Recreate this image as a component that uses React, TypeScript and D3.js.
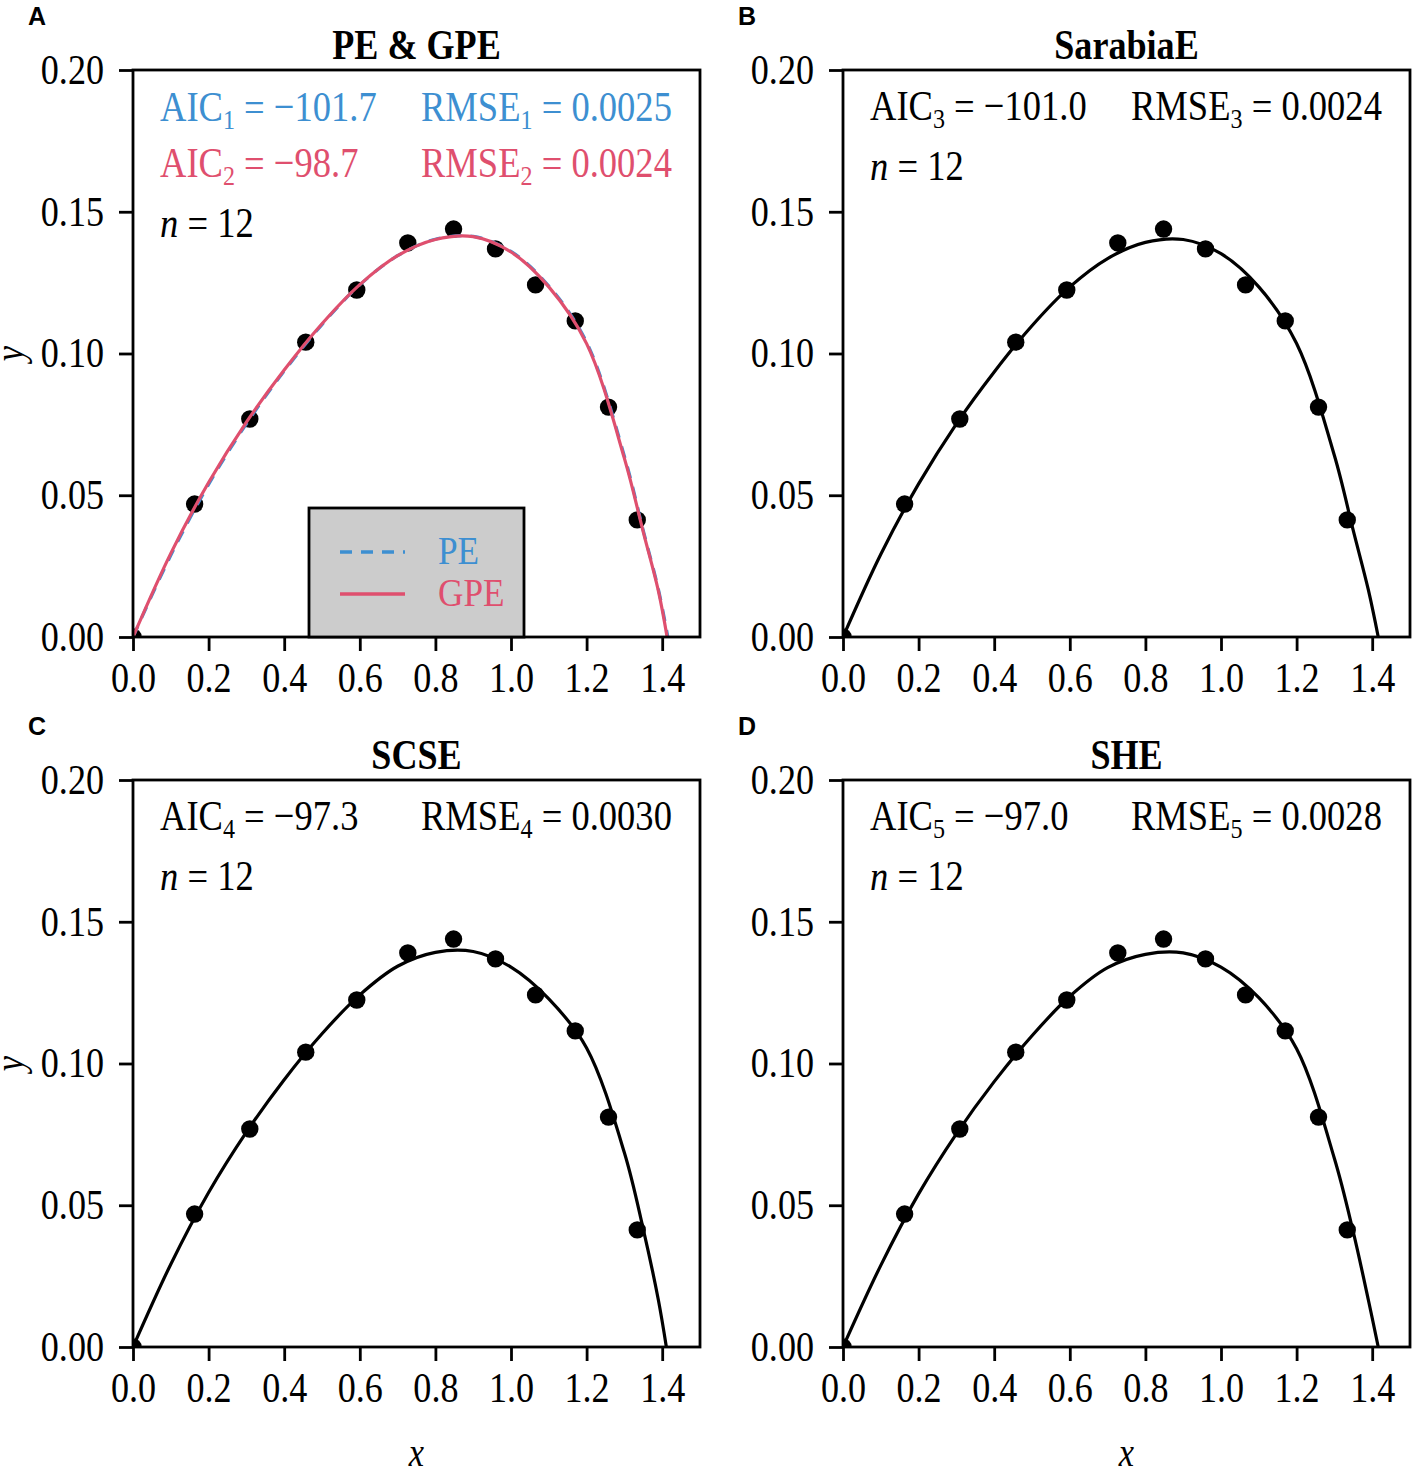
import React, { useEffect, useRef } from 'react';
import * as d3 from 'd3';

// observed points (same 12 in every panel)
const obsX = [0, 0.163, 0.309, 0.457, 0.592, 0.727, 0.848, 0.959, 1.065, 1.17, 1.258, 1.334];
const obsY = [0, 0.0469, 0.0769, 0.104, 0.1224, 0.139, 0.1439, 0.1369, 0.1242, 0.1115, 0.0811, 0.0413];

// fitted curves on a common x grid, each ending at its own root
const gridX = [0, 0.1, 0.2, 0.3, 0.4, 0.5, 0.6, 0.7, 0.8, 0.9, 1.0, 1.1, 1.2, 1.3, 1.35, 1.39];
const peY = [0, 0.0288, 0.0538, 0.0752, 0.0938, 0.1102, 0.1242, 0.1345, 0.1403, 0.1413, 0.136, 0.1238, 0.104, 0.0638, 0.0375, 0.0168];
const peEnd = 1.415;
const gpeY = [0, 0.0295, 0.0545, 0.0758, 0.0942, 0.1105, 0.1243, 0.1345, 0.1402, 0.1412, 0.1358, 0.1235, 0.1035, 0.063, 0.037, 0.0162];
const gpeEnd = 1.413;
const sarabiaY = [0, 0.0292, 0.054, 0.0752, 0.0935, 0.1098, 0.1235, 0.1335, 0.1392, 0.1402, 0.1352, 0.1235, 0.1035, 0.064, 0.0375, 0.0165];
const sarabiaEnd = 1.416;
const scseY = [0, 0.0292, 0.0545, 0.0758, 0.0943, 0.1105, 0.1242, 0.1343, 0.1392, 0.1395, 0.134, 0.1228, 0.1055, 0.0685, 0.0415, 0.0165];
const scseEnd = 1.411;
const sheY = [0, 0.0288, 0.054, 0.0752, 0.0936, 0.1098, 0.1237, 0.1338, 0.1385, 0.139, 0.134, 0.1232, 0.1052, 0.0665, 0.0405, 0.0165];
const sheEnd = 1.416;

const xTicks = [0, 0.2, 0.4, 0.6, 0.8, 1.0, 1.2, 1.4];
const yTicks = [0, 0.05, 0.1, 0.15, 0.2];

const titles = ['PE & GPE', 'SarabiaE', 'SCSE', 'SHE'];
const letters = ['A', 'B', 'C', 'D'];
const aicValues = ['\u2212101.7', '\u221298.7', '\u2212101.0', '\u221297.3', '\u221297.0'];
const rmseValues = ['0.0025', '0.0024', '0.0024', '0.0030', '0.0028'];
const legendNames = ['PE', 'GPE'];

const BLUE = '#3d8fd1';
const RED = '#df4f6e';
const SERIF = '"Liberation Serif", "Times New Roman", serif';
const SX = 0.86; // the serif text in the figure is a bit narrow

const W = 1415;
const H = 1473;
const PW = 567;
const PH = 567;

export default function App() {
  const ref = useRef<SVGSVGElement>(null);

  useEffect(() => {
    if (!ref.current) return;
    const svg = d3.select(ref.current);
    svg.selectAll('*').remove();

    const x = d3.scaleLinear().domain([0, 1.5]).range([0, PW]);
    const y = d3.scaleLinear().domain([0, 0.2]).range([PH, 0]);

    const curvePts = (ys: number[], end: number) =>
      gridX.map((gx, i) => [gx, ys[i]] as [number, number]).concat([[end, 0]]);

    const line = d3
      .line<[number, number]>()
      .x((d) => x(d[0]))
      .y((d) => y(d[1]))
      .curve(d3.curveCatmullRom.alpha(0.5));

    const addText = (
      g: any,
      tx: number,
      ty: number,
      size: number,
      anchor = 'start',
      weight = 'normal'
    ) =>
      g
        .append('text')
        .attr('transform', `translate(${tx},${ty}) scale(${SX},1)`)
        .attr('font-family', SERIF)
        .attr('font-size', size)
        .attr('font-weight', weight)
        .attr('text-anchor', anchor)
        .attr('fill', '#000');

    // stat line like  AIC_1 = -101.7
    const statText = (g: any, tx: number, ty: number, name: string, sub: string, val: string, color: string) => {
      const t = addText(g, tx, ty, 42.5).attr('fill', color);
      t.append('tspan').text(name);
      t.append('tspan').attr('font-size', 28).attr('dy', 8).text(sub);
      t.append('tspan').attr('dy', -8).text(` = ${val}`);
    };

    const panels = [
      {
        left: 133, top: 70,
        curves: [
          { ys: peY, end: peEnd, color: BLUE, dash: '12,9' },
          { ys: gpeY, end: gpeEnd, color: RED, dash: null },
        ],
        stats: [
          { sub: '1', color: BLUE, base: 121 - 70 },
          { sub: '2', color: RED, base: 177 - 70 },
        ],
        nBase: 237 - 70,
        legend: true, xLabel: false, yLabel: true,
      },
      {
        left: 843, top: 70,
        curves: [{ ys: sarabiaY, end: sarabiaEnd, color: '#000', dash: null }],
        stats: [{ sub: '3', color: '#000', base: 120 - 70 }],
        nBase: 180 - 70,
        legend: false, xLabel: false, yLabel: false,
      },
      {
        left: 133, top: 780,
        curves: [{ ys: scseY, end: scseEnd, color: '#000', dash: null }],
        stats: [{ sub: '4', color: '#000', base: 830 - 780 }],
        nBase: 890 - 780,
        legend: false, xLabel: true, yLabel: true,
      },
      {
        left: 843, top: 780,
        curves: [{ ys: sheY, end: sheEnd, color: '#000', dash: null }],
        stats: [{ sub: '5', color: '#000', base: 830 - 780 }],
        nBase: 890 - 780,
        legend: false, xLabel: true, yLabel: false,
      },
    ];

    panels.forEach((p, pi) => {
      const g = svg.append('g').attr('transform', `translate(${p.left},${p.top})`);

      const clipId = `clip-${pi}`;
      g.append('clipPath').attr('id', clipId).append('rect').attr('width', PW).attr('height', PH);

      // panel letter
      svg
        .append('text')
        .attr('x', p.left - 105)
        .attr('y', p.top - 45)
        .attr('font-family', '"Liberation Sans", Arial, sans-serif')
        .attr('font-weight', 'bold')
        .attr('font-size', 25)
        .text(letters[pi]);

      // title
      addText(g, PW / 2, -11, 42, 'middle', 'bold').text(titles[pi]);

      const plot = g.append('g').attr('clip-path', `url(#${clipId})`);

      // observed points
      plot
        .selectAll('.pt')
        .data(obsX.map((ox, i) => [ox, obsY[i]]))
        .enter()
        .append('circle')
        .attr('class', 'pt')
        .attr('cx', (d) => x(d[0]))
        .attr('cy', (d) => y(d[1]))
        .attr('r', 8.7)
        .attr('fill', '#000');

      // fitted curves
      p.curves.forEach((c) => {
        plot
          .append('path')
          .attr('d', line(curvePts(c.ys, c.end)))
          .attr('fill', 'none')
          .attr('stroke', c.color)
          .attr('stroke-width', 3.2)
          .attr('stroke-dasharray', c.dash);
      });

      // axes
      const xAxis = d3.axisBottom(x).tickValues(xTicks).tickSize(14).tickSizeOuter(0).tickPadding(11).tickFormat(d3.format('.1f'));
      const yAxis = d3.axisLeft(y).tickValues(yTicks).tickSize(14).tickSizeOuter(0).tickPadding(15).tickFormat(d3.format('.2f'));

      const gx = g.append('g').attr('transform', `translate(0,${PH})`).call(xAxis);
      const gy = g.append('g').call(yAxis);
      [gx, gy].forEach((ax) => {
        ax.select('.domain').remove();
        ax.selectAll('.tick line').attr('stroke', '#000').attr('stroke-width', 2.8);
        ax.selectAll('.tick text')
          .attr('font-family', SERIF)
          .attr('font-size', 42)
          .attr('fill', '#000');
      });
      gx.selectAll('.tick text').attr('transform', `scale(${SX},1)`);
      gy.selectAll('.tick text')
        .attr('x', -29 / SX)
        .attr('transform', `scale(${SX},1)`);

      // frame
      g.append('rect')
        .attr('width', PW)
        .attr('height', PH)
        .attr('fill', 'none')
        .attr('stroke', '#000')
        .attr('stroke-width', 2.8);

      // annotations
      p.stats.forEach((s) => {
        const k = Number(s.sub) - 1;
        statText(g, 27, s.base, 'AIC', s.sub, aicValues[k], s.color);
        statText(g, 288, s.base, 'RMSE', s.sub, rmseValues[k], s.color);
      });
      const nt = addText(g, 27, p.nBase, 42.5);
      nt.append('tspan').attr('font-style', 'italic').text('n');
      nt.append('tspan').text(' = 12');

      // legend
      if (p.legend) {
        const lg = g.append('g').attr('transform', `translate(${176},${438})`);
        lg.append('rect')
          .attr('width', 215)
          .attr('height', PH - 438)
          .attr('fill', '#cccccc')
          .attr('stroke', '#000')
          .attr('stroke-width', 2.8);
        const colors = [BLUE, RED];
        const dashes = ['12,9', null];
        legendNames.forEach((name, i) => {
          const ly = 44 + i * 42;
          lg.append('line')
            .attr('x1', 31)
            .attr('x2', 96)
            .attr('y1', ly)
            .attr('y2', ly)
            .attr('stroke', colors[i])
            .attr('stroke-width', 3.4)
            .attr('stroke-dasharray', dashes[i]);
          addText(lg, 129, ly + 12, 41).attr('fill', colors[i]).text(name);
        });
      }

      if (p.xLabel) {
        addText(g, PW / 2, 1466 - p.top, 40, 'middle').attr('font-style', 'italic').text('x');
      }
      if (p.yLabel) {
        g.append('text')
          .attr('transform', `translate(${23 - p.left},${PH / 2}) rotate(-90) scale(${SX},1)`)
          .attr('font-family', SERIF)
          .attr('font-size', 40)
          .attr('font-style', 'italic')
          .attr('text-anchor', 'middle')
          .text('y');
      }
    });
  }, []);

  return (
    <svg
      ref={ref}
      width={W}
      height={H}
      style={{ position: 'absolute', left: 0, top: 0, background: '#fff' }}
    />
  );
}
